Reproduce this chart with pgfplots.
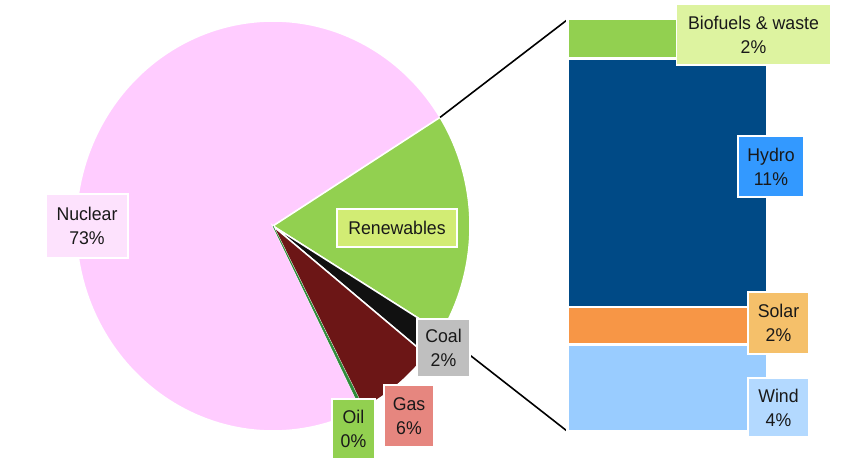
\documentclass[border=0pt]{standalone}
\usepackage{pgfplots}
\usepackage{pgfplotstable}
\pgfplotsset{compat=1.18}
\usepackage{fontspec}
\setmainfont{Liberation Sans}

\definecolor{nuclear}{HTML}{FFCCFF}
\definecolor{renew}{HTML}{92D050}
\definecolor{coal}{HTML}{111111}
\definecolor{gas}{HTML}{6C1616}
\definecolor{oil}{HTML}{2E8B3A}
\definecolor{bio}{HTML}{92D050}
\definecolor{hydro}{HTML}{004A86}
\definecolor{solar}{HTML}{F79646}
\definecolor{wind}{HTML}{99CCFF}
\definecolor{lnuc}{HTML}{FDE2FD}
\definecolor{lren}{HTML}{D2EC74}
\definecolor{lcoal}{HTML}{BFBFBF}
\definecolor{lgas}{HTML}{E6867F}
\definecolor{loil}{HTML}{92D050}
\definecolor{lbio}{HTML}{DDF3A0}
\definecolor{lhyd}{HTML}{3399FF}
\definecolor{lsol}{HTML}{F5C06A}
\definecolor{lwind}{HTML}{B3D9FF}

% pie shares (%), clockwise from the renewables slice
\pgfplotstableread{
name value
Renewables 17.6
Coal 2.1
Gas 6.6
Oil 0.2
Nuclear 73.5
}\pietable

% renewables breakdown (%), top to bottom
\pgfplotstableread{
name value
Biofuels 1.7
Hydro 10.6
Solar 1.6
Wind 3.7
}\bartable

\tikzset{lab/.style={draw=white, line width=1.5bp, inner sep=0pt, align=center,
  text=black!90, font=\fontsize{18.5}{24}\selectfont, xscale=0.96}}

\begin{document}
\begin{tikzpicture}
\pgfplotstablegetelem{0}{value}\of\pietable \let\vR\pgfplotsretval
\pgfplotstablegetelem{1}{value}\of\pietable \let\vC\pgfplotsretval
\pgfplotstablegetelem{2}{value}\of\pietable \let\vG\pgfplotsretval
\pgfplotstablegetelem{3}{value}\of\pietable \let\vO\pgfplotsretval
\pgfplotstablegetelem{4}{value}\of\pietable \let\vN\pgfplotsretval
\pgfmathsetmacro{\aA}{32}
\pgfmathsetmacro{\aB}{\aA-3.6*\vR}
\pgfmathsetmacro{\aC}{\aB-3.6*\vC}
\pgfmathsetmacro{\aD}{\aC-3.6*\vG}
\pgfmathsetmacro{\aE}{\aD-3.6*\vO}
\pgfmathsetmacro{\aF}{\aE-3.6*\vN}
\pgfmathsetmacro{\cx}{273}
\pgfmathsetmacro{\cy}{226}
\pgfmathsetmacro{\rx}{197}
\pgfmathsetmacro{\ry}{205}

\begin{axis}[at={(0,0)}, anchor=south west, scale only axis,
  width=850bp, height=475bp, xmin=0, xmax=850, ymin=0, ymax=475,
  y dir=reverse, hide axis, clip=false]
  % pie slices
  \addplot[fill=nuclear, draw=white, line width=1.5bp, domain=\aF:\aE, samples=150, variable=\t]
    ({\cx+\rx*cos(\t)},{\cy-\ry*sin(\t)}) -- (\cx,\cy) -- cycle;
  \addplot[fill=renew, draw=white, line width=1.5bp, domain=\aB:\aA, samples=60, variable=\t]
    ({\cx+\rx*cos(\t)},{\cy-\ry*sin(\t)}) -- (\cx,\cy) -- cycle;
  \addplot[fill=coal, draw=white, line width=1.5bp, domain=\aC:\aB, samples=10, variable=\t]
    ({\cx+\rx*cos(\t)},{\cy-\ry*sin(\t)}) -- (\cx,\cy) -- cycle;
  \addplot[fill=gas, draw=white, line width=1.5bp, domain=\aD:\aC, samples=30, variable=\t]
    ({\cx+\rx*cos(\t)},{\cy-\ry*sin(\t)}) -- (\cx,\cy) -- cycle;
  \addplot[fill=oil, draw=oil, line width=0.6bp, domain=\aE:\aD, samples=3, variable=\t]
    ({\cx+\rx*cos(\t)},{\cy-\ry*sin(\t)}) -- (\cx,\cy) -- cycle;
  % connector lines
  \addplot[black, line width=1.6bp, samples at={\aA}, variable=\t]
    ({\cx+\rx*cos(\t)},{\cy-\ry*sin(\t)}) -- (567,20);
  \addplot[black, line width=1.6bp, samples at={\aB}, variable=\t]
    ({\cx+\rx*cos(\t)},{\cy-\ry*sin(\t)}) -- (567,431);
  % labels
  \node[lab, fill=lnuc, minimum width=85bp, minimum height=64bp] at (87,226) {Nuclear\\73\%};
  \node[lab, fill=lren, minimum width=125bp, minimum height=38bp] at (397,228) {Renewables};
  \node[lab, fill=lcoal, minimum width=55bp, minimum height=58bp] at (443.5,348) {Coal\\2\%};
  \node[lab, fill=lgas, minimum width=52bp, minimum height=62bp] at (409,416) {Gas\\6\%};
  \node[lab, fill=loil, minimum width=45bp, minimum height=60bp] at (353.5,429) {Oil\\0\%};
\end{axis}

\begin{axis}[at={(567.5bp,456.5bp)}, anchor=north west, scale only axis,
  width=200bp, height=413bp, xmin=-0.5, xmax=0.5, ymin=0, ymax=17.6,
  y dir=reverse, hide axis, clip=false, ybar stacked, bar width=1,
  every axis plot/.append style={draw=white, line width=2.5bp}]
  \addplot[fill=bio] table[x expr=0, y=value, skip coords between index={1}{4}] {\bartable};
  \addplot[fill=hydro] table[x expr=0, y=value, skip coords between index={0}{1}, skip coords between index={2}{4}] {\bartable};
  \addplot[fill=solar] table[x expr=0, y=value, skip coords between index={0}{2}, skip coords between index={3}{4}] {\bartable};
  \addplot[fill=wind] table[x expr=0, y=value, skip coords between index={0}{3}] {\bartable};
\end{axis}

\begin{axis}[at={(0,0)}, anchor=south west, scale only axis,
  width=850bp, height=475bp, xmin=0, xmax=850, ymin=0, ymax=475,
  y dir=reverse, hide axis, clip=false]
  \addplot[draw=none] coordinates {(0,0)};
  \node[lab, fill=lbio, minimum width=160bp, minimum height=61bp] at (753.5,34.5) {Biofuels \& waste\\2\%};
  \node[lab, fill=lhyd, minimum width=69bp, minimum height=61bp] at (771,166.5) {Hydro\\11\%};
  \node[lab, fill=lsol, minimum width=64bp, minimum height=62bp] at (778.5,323) {Solar\\2\%};
  \node[lab, fill=lwind, minimum width=64bp, minimum height=59bp] at (778.5,407.5) {Wind\\4\%};
\end{axis}
\path[use as bounding box] (0,0) rectangle (850bp,475bp);
\end{tikzpicture}
\end{document}
